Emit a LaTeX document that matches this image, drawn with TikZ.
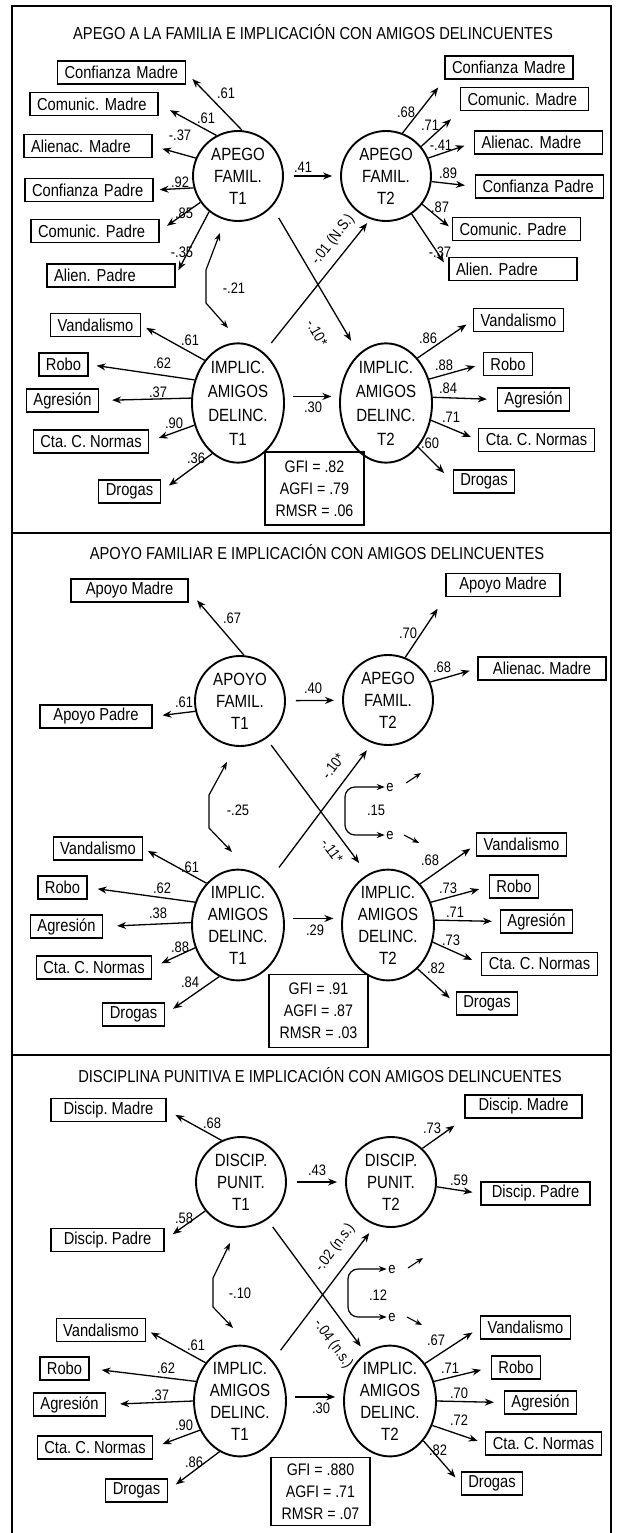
\documentclass[tikz,border=0pt]{standalone}
\usepackage{fontspec}
\setmainfont{Liberation Sans}[FakeStretch=0.85]
\usetikzlibrary{shapes.geometric,arrows.meta}
\newcommand\fCirc{\fontsize{17.7}{22}\selectfont}
\newcommand\fCircB{\fontsize{17.7}{24}\selectfont}
\newcommand\fBox{\fontsize{17.3}{19}\selectfont}
\newcommand\fNum{\fontsize{15.2}{17}\selectfont}
\newcommand\fTitle{\fontsize{17.3}{20}\selectfont}
\newcommand\fFit{\fontsize{16.7}{22}\selectfont}
\frenchspacing
\begin{document}
\begin{tikzpicture}[x=1pt,y=-1pt,
  lat/.style={circle,draw,line width=1.9pt,minimum size=90pt,inner sep=0pt,align=center,font=\fCirc},
  latE/.style={ellipse,draw,line width=1.9pt,minimum width=92pt,minimum height=100pt,inner sep=0pt,align=center,font=\fCirc},
  latEB/.style={latE,minimum height=116pt,font=\fCircB},
  obs/.style={draw,line width=1.2pt,inner xsep=7pt,inner ysep=0pt,minimum height=23pt,font=\fBox},
  obsw/.style={obs,text width=114pt,align=left},
  lab/.style={font=\fNum,inner sep=1.5pt},
  ttl/.style={font=\fTitle,inner sep=0pt},
  fitb/.style={draw,line width=1.2pt,align=center,font=\fFit,minimum width=99pt,minimum height=73pt,inner sep=2pt},
  arr/.style={line width=1.3pt,-{Stealth[length=9pt,width=7pt]}},
  sarr/.style={line width=1.1pt,-{Stealth[length=7pt,width=5.5pt]}},
  dbl/.style={line width=1.2pt,{Stealth[length=8pt,width=6pt]}-{Stealth[length=8pt,width=6pt]}},
  frm/.style={line width=1.1pt}
]
\useasboundingbox (0,0) rectangle (621,1533);
% frame
\draw[frm] (12,1533) -- (12,6) -- (611,6) -- (611,1533);
\draw[frm] (12,533) -- (611,533);
\draw[frm] (12,1055) -- (611,1055);

%%%%%%%%%%%%%%%% PANEL 1
\node[ttl] (t1) at (313,32) {APEGO A LA FAMILIA E IMPLICACIÓN CON AMIGOS DELINCUENTES};
\node[lat] (A1) at (238,176) {APEGO\\FAMIL.\\T1};
\node[lat] (A2) at (386,176) {APEGO\\FAMIL.\\T2};
\node[latEB] (B1) at (238,403) {IMPLIC.\\AMIGOS\\DELINC.\\T1};
\node[latEB] (B2) at (386,403) {IMPLIC.\\AMIGOS\\DELINC.\\T2};

\node[obsw] (cmL) at (121.5,72.5) {Confianza Madre};
\node[obsw] (comL) at (94,104) {Comunic. Madre};
\node[obsw] (amL) at (88,146) {Alienac. Madre};
\node[obsw] (cpL) at (89,190) {Confianza Padre};
\node[obsw] (copL) at (95,231) {Comunic. Padre};
\node[obsw] (apL) at (111,275.5) {Alien. Padre};

\node[obsw] (cmR) at (509,67.5) {Confianza Madre};
\node[obsw] (comR) at (524.5,99) {Comunic. Madre};
\node[obsw] (amR) at (538.5,142.5) {Alienac. Madre};
\node[obsw] (cpR) at (539.5,186.5) {Confianza Padre};
\node[obsw] (copR) at (516.5,229) {Comunic. Padre};
\node[obsw] (apR) at (513,269) {Alien. Padre};

\node[obs] (vL1) at (95.5,325) {Vandalismo};
\node[obs] (rL1) at (63.5,364.5) {Robo};
\node[obs] (agL1) at (62.5,400.5) {Agresión};
\node[obs] (ctL1) at (91,441.5) {Cta. C. Normas};
\node[obs] (drL1) at (129.5,491.5) {Drogas};

\node[obs] (vR1) at (518.5,320) {Vandalismo};
\node[obs] (rR1) at (508,364) {Robo};
\node[obs] (agR1) at (533.5,399.5) {Agresión};
\node[obs] (ctR1) at (536.5,440) {Cta. C. Normas};
\node[obs] (drR1) at (484,481.5) {Drogas};

\node[fitb] (g1) at (314.5,488.5) {GFI = .82\\AGFI = .79\\RMSR = .06};

\draw[arr,shorten >=9pt] (A1.85) -- (cmL.east);
\draw[arr,shorten >=13pt] (A1.118) -- (comL.east);
\draw[arr,shorten >=10pt] (A1.157) -- (amL.east);
\draw[arr,shorten >=6pt] (A1.195) -- (cpL.east);
\draw[arr,shorten >=9pt] (A1.215) -- (copL.east);
\draw[arr,shorten >=6pt] (A1.231) -- (apL.east);

\draw[arr,shorten >=10pt] (A2.69) -- (cmR.south west);
\draw[arr,shorten >=12pt] (A2.40) -- (comR.south west);
\draw[arr,shorten >=10pt] (A2.23) -- (amR.west);
\draw[arr,shorten >=10pt] (A2.353) -- (cpR.west);
\draw[arr,shorten >=4pt] (A2.322) -- (copR.west);
\draw[arr,shorten >=8pt] (A2.304) -- (apR.west);

\draw[arr,shorten >=6pt] (B1.128) -- (vL1.east);
\draw[arr,shorten >=8pt] (B1.152) -- (rL1.east);
\draw[arr,shorten >=13pt] (B1.174) -- (agL1.east);
\draw[arr,shorten >=10pt] (B1.207) -- (ctL1.east);
\draw[arr,shorten >=10pt] (B1.243) -- (drL1.east);

\draw[arr,shorten >=8pt] (B2.55) -- (vR1.west);
\draw[arr,shorten >=8pt] (B2.29) -- (rR1.west);
\draw[arr,shorten >=10pt] (B2.7) -- (agR1.west);
\draw[arr,shorten >=8pt] (B2.339) -- (ctR1.west);
\draw[arr,shorten >=12pt] (B2.306) -- (drR1.west);

\draw[arr,shorten <=10pt,shorten >=8pt] (A1) -- (A2);
\draw[arr,shorten <=8pt,shorten >=8pt] (B1.8) -- (B2.172);

\draw[arr,shorten <=13pt,shorten >=15pt] (A1.318) -- (B2.119);
\draw[arr,shorten <=12pt,shorten >=5pt] (B1.63) -- (A2.250);
\node[lab,rotate=-60] (x11) at (317,333) {-.10*};
\node[lab,rotate=52] (x12) at (333,240) {-.01 (N.S.)};

\coordinate (b1a) at (220,233);
\coordinate (b1b) at (206,270);
\coordinate (b1c) at (206,303);
\coordinate (b1d) at (228,328);
\draw[dbl] (b1a) -- (b1b) -- (b1c) -- (b1d);

\node[lab] (n101) at (226,93) {.61};
\node[lab] (n102) at (206,118) {.61};
\node[lab] (n103) at (180,135) {-.37};
\node[lab] (n104) at (180,182) {.92};
\node[lab] (n105) at (184,213) {.85};
\node[lab] (n106) at (182,252) {-.35};
\node[lab] (n107) at (406,112) {.68};
\node[lab] (n108) at (430,125) {.71};
\node[lab] (n109) at (441,145) {-.41};
\node[lab] (n110) at (448,173) {.89};
\node[lab] (n111) at (440,207) {.87};
\node[lab] (n112) at (440,252) {-.37};
\node[lab] (n113) at (303,167) {.41};
\node[lab] (n114) at (313,407) {.30};
\node[lab] (n115) at (234,288) {-.21};
\node[lab] (n116) at (190,340) {.61};
\node[lab] (n117) at (162,363) {.62};
\node[lab] (n118) at (158,392) {.37};
\node[lab] (n119) at (174,423) {.90};
\node[lab] (n120) at (196,458) {.36};
\node[lab] (n121) at (428,338) {.86};
\node[lab] (n122) at (444,365) {.88};
\node[lab] (n123) at (448,388) {.84};
\node[lab] (n124) at (451,417) {.71};
\node[lab] (n125) at (430,443) {.60};

%%%%%%%%%%%%%%%% PANEL 2
\node[ttl] (t2) at (317,552) {APOYO FAMILIAR E IMPLICACIÓN CON AMIGOS DELINCUENTES};
\node[lat] (C1) at (240,701) {APOYO\\FAMIL.\\T1};
\node[lat] (C2) at (388,700) {APEGO\\FAMIL.\\T2};
\node[latE] (D1) at (238,925) {IMPLIC.\\AMIGOS\\DELINC.\\T1};
\node[latE] (D2) at (388,925) {IMPLIC.\\AMIGOS\\DELINC.\\T2};

\node[obs,minimum width=117pt] (mL2) at (129.5,590.5) {Apoyo Madre};
\node[obs,minimum width=112pt] (pL2) at (96,716.5) {Apoyo Padre};
\node[obs,minimum width=114pt] (mR2) at (503,585) {Apoyo Madre};
\node[obs,minimum width=128pt] (alR2) at (542,668.5) {Alienac. Madre};

\node[obs] (vL2) at (98,848.5) {Vandalismo};
\node[obs] (rL2) at (62.5,887.5) {Robo};
\node[obs] (agL2) at (66.5,926.5) {Agresión};
\node[obs] (ctL2) at (94,967.5) {Cta. C. Normas};
\node[obs] (drL2) at (133.5,1014.5) {Drogas};

\node[obs] (vR2) at (521.5,844.5) {Vandalismo};
\node[obs] (rR2) at (514,886.5) {Robo};
\node[obs] (agR2) at (536.5,921.5) {Agresión};
\node[obs] (ctR2) at (539.5,964) {Cta. C. Normas};
\node[obs] (drR2) at (487,1003.5) {Drogas};

\node[fitb] (g2) at (318.5,1011) {GFI = .91\\AGFI = .87\\RMSR = .03};

\draw[arr,shorten >=13pt] (C1.85) -- (mL2.east);
\draw[arr,shorten >=10pt] (C1.193) -- (pL2.east);
\draw[arr,shorten >=14pt] (C2.68) -- (mR2.south west);
\draw[arr,shorten >=8pt] (C2.23) -- (alR2.west);

\draw[arr,shorten >=5pt] (D1.127) -- (vL2.east);
\draw[arr,shorten >=10pt] (D1.152) -- (rL2.east);
\draw[arr,shorten >=14pt] (D1.177) -- (agL2.east);
\draw[arr,shorten >=10pt] (D1.208) -- (ctL2.east);
\draw[arr,shorten >=10pt] (D1.250) -- (drL2.east);

\draw[arr,shorten >=7pt] (D2.52) -- (vR2.west);
\draw[arr,shorten >=10pt] (D2.28) -- (rR2.west);
\draw[arr,shorten >=8pt] (D2.6) -- (agR2.west);
\draw[arr,shorten >=10pt] (D2.339) -- (ctR2.west);
\draw[arr,shorten >=8pt] (D2.304) -- (drR2.west);

\draw[arr,shorten <=10pt,shorten >=8pt] (C1) -- (C2);
\draw[arr,shorten <=8pt,shorten >=8pt] (D1.8) -- (D2.172);

\draw[arr,shorten <=8pt,shorten >=14pt] (C1.305) -- (D2.112);
\draw[arr,shorten <=18pt,shorten >=9pt] (D1.55) -- (C2.250);
\node[lab,rotate=-54] (x21) at (332,851) {-.11*};
\node[lab,rotate=53] (x22) at (333,766) {-.10*};

\coordinate (b2a) at (227,762);
\coordinate (b2b) at (209,795);
\coordinate (b2c) at (209,828);
\coordinate (b2d) at (232,852);
\draw[dbl] (b2a) -- (b2b) -- (b2c) -- (b2d);

\node[lab] (e21) at (390,787) {e};
\node[lab] (e22) at (390,835) {e};
\coordinate (q2a) at (345,787);
\coordinate (q2b) at (345,835);
\draw[dbl,rounded corners=10pt] (e21.west) -- (q2a) -- (q2b) -- (e22.west);
\coordinate (s2a) at (406,783);
\coordinate (s2b) at (421,773);
\coordinate (s2c) at (404,835);
\coordinate (s2d) at (419,843);
\draw[sarr] (s2a) -- (s2b);
\draw[sarr] (s2c) -- (s2d);

\node[lab] (n201) at (232,618) {.67};
\node[lab] (n202) at (184,702) {.61};
\node[lab] (n203) at (408,633) {.70};
\node[lab] (n204) at (442,667) {.68};
\node[lab] (n205) at (313,688) {.40};
\node[lab] (n206) at (238,810) {-.25};
\node[lab] (n207) at (376,810) {.15};
\node[lab] (n208) at (315,930) {.29};
\node[lab] (n209) at (190,867) {.61};
\node[lab] (n210) at (162,888) {.62};
\node[lab] (n211) at (158,913) {.38};
\node[lab] (n212) at (180,947) {.88};
\node[lab] (n213) at (190,982) {.84};
\node[lab] (n214) at (430,860) {.68};
\node[lab] (n215) at (448,888) {.73};
\node[lab] (n216) at (455,912) {.71};
\node[lab] (n217) at (451,940) {.73};
\node[lab] (n218) at (436,968) {.82};

%%%%%%%%%%%%%%%% PANEL 3
\node[ttl] (t3) at (320,1075) {DISCIPLINA PUNITIVA E IMPLICACIÓN CON AMIGOS DELINCUENTES};
\node[lat] (E1) at (241,1182) {DISCIP.\\PUNIT.\\T1};
\node[lat] (E2) at (391,1182) {DISCIP.\\PUNIT.\\T2};
\node[latE] (F1) at (240,1401) {IMPLIC.\\AMIGOS\\DELINC.\\T1};
\node[latE] (F2) at (390,1401) {IMPLIC.\\AMIGOS\\DELINC.\\T2};

\node[obs,minimum width=115pt] (mL3) at (108.5,1110) {Discip. Madre};
\node[obs,minimum width=117pt] (mR3) at (523.5,1106.5) {Discip. Madre};
\node[obs,minimum width=109pt] (pR3) at (535.5,1193.5) {Discip. Padre};
\node[obs,minimum width=113pt] (pL3) at (107.5,1240) {Discip. Padre};

\node[obs] (vL3) at (101,1330) {Vandalismo};
\node[obs] (rL3) at (64.5,1368.5) {Robo};
\node[obs] (agL3) at (69.5,1404.5) {Agresión};
\node[obs] (ctL3) at (95,1447.5) {Cta. C. Normas};
\node[obs] (drL3) at (136.5,1490.5) {Drogas};

\node[obs] (vR3) at (525.5,1327.5) {Vandalismo};
\node[obs] (rR3) at (516,1367.5) {Robo};
\node[obs] (agR3) at (540.5,1402.5) {Agresión};
\node[obs] (ctR3) at (543.5,1443.5) {Cta. C. Normas};
\node[obs] (drR3) at (492,1483.5) {Drogas};

\node[fitb,minimum height=68pt] (g3) at (320.5,1491.5) {GFI = .880\\AGFI = .71\\RMSR = .07};

\draw[arr,shorten >=10pt] (E1.115) -- (mL3.east);
\draw[arr,shorten >=10pt] (E1.219) -- (pL3.east);
\draw[arr,shorten >=12pt] (E2.47) -- (mR3.south west);
\draw[arr,shorten >=8pt] (E2.354) -- (pR3.west);

\draw[arr,shorten >=5pt] (F1.132) -- (vL3.east);
\draw[arr,shorten >=12pt] (F1.156) -- (rL3.east);
\draw[arr,shorten >=14pt] (F1.180) -- (agL3.east);
\draw[arr,shorten >=10pt] (F1.216) -- (ctL3.east);
\draw[arr,shorten >=10pt] (F1.248) -- (drL3.east);

\draw[arr,shorten >=9pt] (F2.47) -- (vR3.west);
\draw[arr,shorten >=10pt] (F2.24) -- (rR3.west);
\draw[arr,shorten >=10pt] (F2.0) -- (agR3.west);
\draw[arr,shorten >=8pt] (F2.330) -- (ctR3.west);
\draw[arr,shorten >=8pt] (F2.310) -- (drR3.west);

\draw[arr,shorten <=10pt,shorten >=8pt] (E1) -- (E2);
\draw[arr,shorten <=8pt,shorten >=8pt] (F1.5) -- (F2.175);

\draw[arr,shorten <=9pt,shorten >=8pt] (E1.305) -- (F2.117);
\draw[arr,shorten <=13pt,shorten >=10pt] (F1.51) -- (E2.250);
\node[lab,rotate=-54] (x31) at (333,1344) {-.04 (n.s.)};
\node[lab,rotate=53] (x32) at (335,1248) {-.02 (n.s.)};

\coordinate (b3a) at (230,1243);
\coordinate (b3b) at (213,1278);
\coordinate (b3c) at (213,1307);
\coordinate (b3d) at (233,1328);
\draw[dbl] (b3a) -- (b3b) -- (b3c) -- (b3d);

\node[lab] (e31) at (392,1269) {e};
\node[lab] (e32) at (392,1317) {e};
\coordinate (q3a) at (348,1269);
\coordinate (q3b) at (348,1317);
\draw[dbl,rounded corners=10pt] (e31.west) -- (q3a) -- (q3b) -- (e32.west);
\coordinate (s3a) at (408,1268);
\coordinate (s3b) at (423,1258);
\coordinate (s3c) at (407,1317);
\coordinate (s3d) at (422,1325);
\draw[sarr] (s3a) -- (s3b);
\draw[sarr] (s3c) -- (s3d);

\node[lab] (n301) at (212,1123) {.68};
\node[lab] (n302) at (184,1218) {.58};
\node[lab] (n303) at (432,1128) {.73};
\node[lab] (n304) at (459,1180) {.59};
\node[lab] (n305) at (317,1170) {.43};
\node[lab] (n306) at (240,1293) {-.10};
\node[lab] (n307) at (378,1295) {.12};
\node[lab] (n308) at (321,1408) {.30};
\node[lab] (n309) at (196,1345) {.61};
\node[lab] (n310) at (166,1368) {.62};
\node[lab] (n311) at (160,1395) {.37};
\node[lab] (n312) at (184,1425) {.90};
\node[lab] (n313) at (194,1462) {.86};
\node[lab] (n314) at (436,1340) {.67};
\node[lab] (n315) at (450,1368) {.71};
\node[lab] (n316) at (459,1393) {.70};
\node[lab] (n317) at (459,1420) {.72};
\node[lab] (n318) at (438,1450) {.82};
\end{tikzpicture}
\end{document}
